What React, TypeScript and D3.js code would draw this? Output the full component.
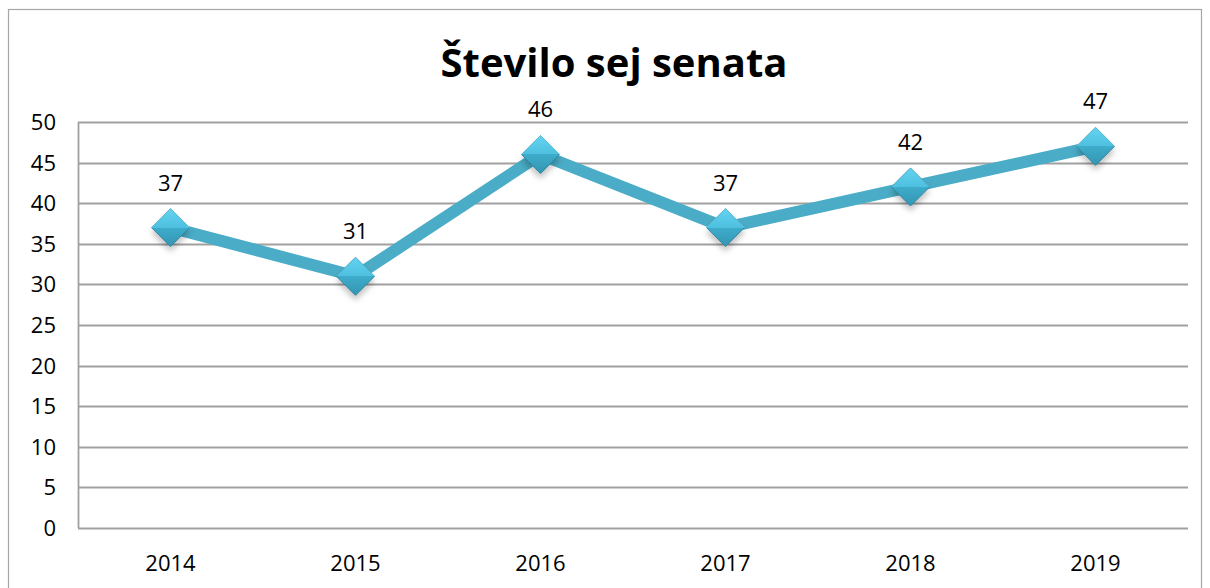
import React, { useEffect, useRef } from 'react';
import * as d3 from 'd3';

const years = ['2014', '2015', '2016', '2017', '2018', '2019'];
const sessions = [37, 31, 46, 37, 42, 47];
const yTicks = [0, 5, 10, 15, 20, 25, 30, 35, 40, 45, 50];
const title = 'Število sej senata';

const font = '"Open Sans", "Noto Sans", sans-serif';

const App = () => {
  const ref = useRef<SVGSVGElement>(null);

  useEffect(() => {
    const svg = d3.select(ref.current);
    svg.selectAll('*').remove();

    const left = 78;
    const right = 1188;
    const x = d3.scaleBand().domain(years).range([left, right]);
    const y = d3.scaleLinear().domain([0, 50]).range([528, 122]);

    const defs = svg.append('defs');
    const grad = defs.append('linearGradient').attr('id', 'dia').attr('x1', 0).attr('y1', 0).attr('x2', 0).attr('y2', 1);
    grad.append('stop').attr('offset', '0%').attr('stop-color', '#63d3f0');
    grad.append('stop').attr('offset', '50%').attr('stop-color', '#4ec0df');
    grad.append('stop').attr('offset', '50%').attr('stop-color', '#3eaccb');
    grad.append('stop').attr('offset', '100%').attr('stop-color', '#3495b2');
    const sh = defs.append('filter').attr('id', 'sh').attr('x', '-50%').attr('y', '-50%').attr('width', '200%').attr('height', '200%');
    sh.append('feGaussianBlur').attr('stdDeviation', 3);

    // outer frame
    svg.append('rect')
      .attr('x', 8.5).attr('y', 9.5).attr('width', 1193).attr('height', 600)
      .attr('fill', '#fff').attr('stroke', '#a6a6a6').attr('stroke-width', 1.2);

    svg.append('text')
      .attr('x', 614).attr('y', 77)
      .attr('text-anchor', 'middle')
      .style('font-family', font).style('font-weight', 700).style('font-size', '40px')
      .text(title);

    // gridlines
    svg.append('g').selectAll('line').data(yTicks).enter().append('line')
      .attr('x1', left).attr('x2', right)
      .attr('y1', d => Math.round(y(d)) + 0.5).attr('y2', d => Math.round(y(d)) + 0.5)
      .attr('stroke', '#a0a0a0').attr('stroke-width', 1.8);

    svg.append('line')
      .attr('x1', left + 0.5).attr('x2', left + 0.5)
      .attr('y1', y(50)).attr('y2', y(0))
      .attr('stroke', '#a0a0a0').attr('stroke-width', 1.8);

    svg.append('g').selectAll('text').data(yTicks).enter().append('text')
      .attr('x', 56).attr('y', d => y(d)).attr('dy', '0.36em')
      .attr('text-anchor', 'end')
      .style('font-family', font).style('font-size', '22px')
      .text(d => d);

    svg.append('g').selectAll('text').data(years).enter().append('text')
      .attr('x', d => x(d)! + x.bandwidth() / 2).attr('y', 571)
      .attr('text-anchor', 'middle')
      .style('font-family', font).style('font-size', '22px')
      .text(d => d);

    const pts = years.map((yr, i) => [x(yr)! + x.bandwidth() / 2, y(sessions[i])] as [number, number]);

    svg.append('path')
      .attr('d', d3.line()(pts))
      .attr('fill', 'none').attr('stroke', '#4aacc6').attr('stroke-width', 12)
      .attr('stroke-linejoin', 'round');

    const r = 19;
    const diamond = (cx: number, cy: number) => `M${cx},${cy - r}L${cx + r},${cy}L${cx},${cy + r}L${cx - r},${cy}Z`;

    const mk = svg.append('g');
    pts.forEach(([cx, cy]) => {
      mk.append('path').attr('d', diamond(cx, cy + 5)).attr('fill', '#000').attr('opacity', 0.25).attr('filter', 'url(#sh)');
      mk.append('path').attr('d', diamond(cx, cy)).attr('fill', 'url(#dia)').attr('stroke', '#2f8aa6').attr('stroke-width', 1);
      mk.append('path').attr('d', `M${cx - r},${cy}L${cx},${cy - r}L${cx + r},${cy}`).attr('fill', 'none').attr('stroke', '#7fe0f7').attr('stroke-width', 1).attr('opacity', 0.6);
    });

    svg.append('g').selectAll('text').data(sessions).enter().append('text')
      .attr('x', (d, i) => pts[i][0]).attr('y', (d, i) => pts[i][1] - 37)
      .attr('text-anchor', 'middle')
      .style('font-family', font).style('font-size', '22px')
      .text(d => d);
  }, []);

  return <svg ref={ref} width={1210} height={588} style={{ position: 'absolute', left: 0, top: 0 }}></svg>;
};

export default App;
